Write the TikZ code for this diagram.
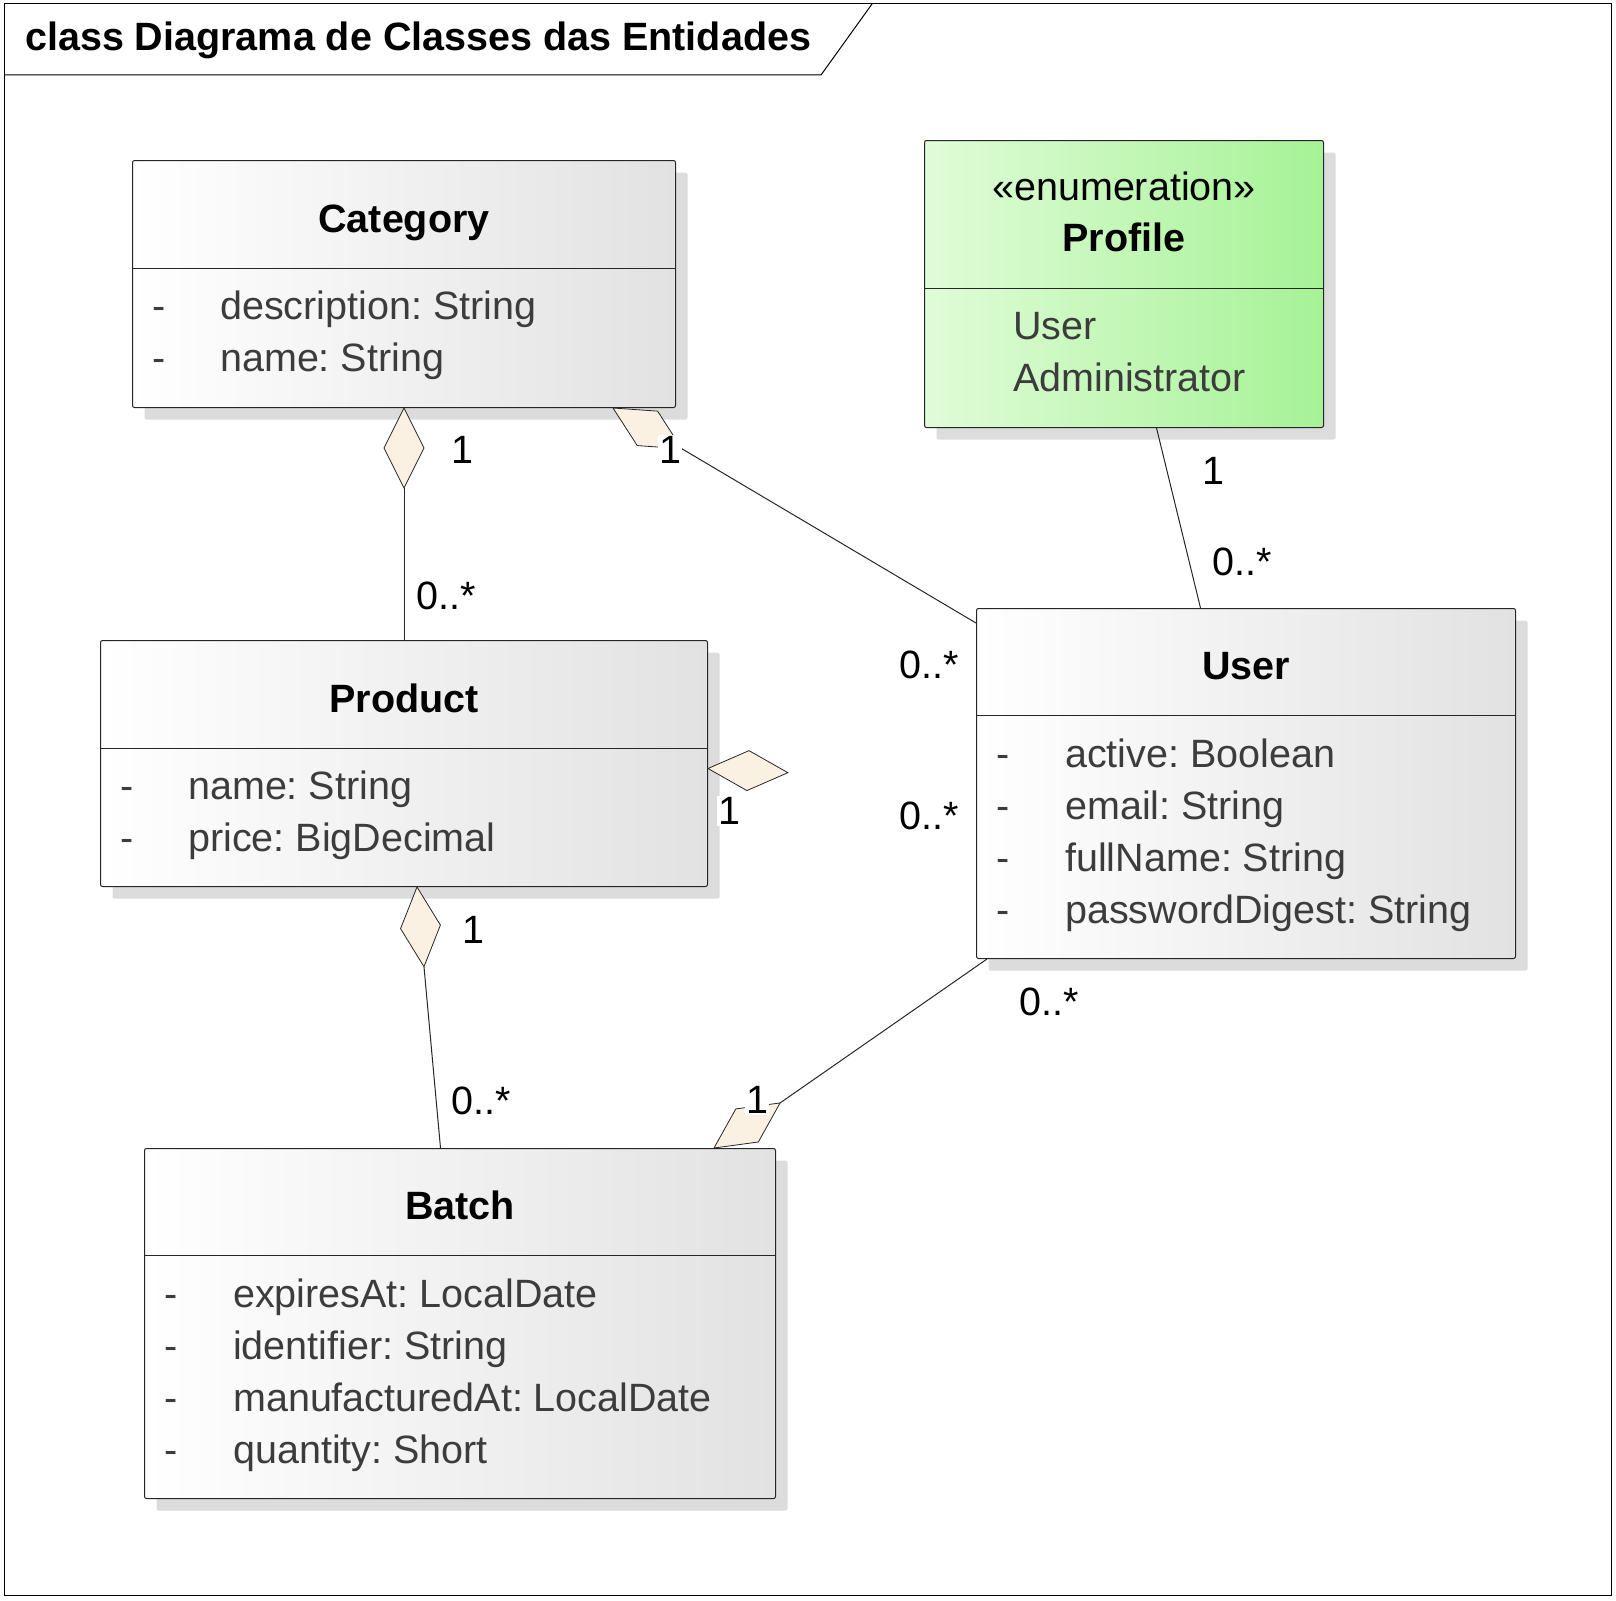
\documentclass[tikz,border=0pt]{standalone}
\usepackage{fontspec}
\setmainfont{Liberation Sans}
\usetikzlibrary{shapes.geometric,shadows,calc}
\definecolor{boxgray}{RGB}{226,226,226}
\definecolor{shadowgray}{RGB}{220,220,220}
\definecolor{enumleft}{RGB}{224,252,216}
\definecolor{enumright}{RGB}{166,242,150}
\definecolor{aggfill}{RGB}{251,241,226}
\definecolor{attrtext}{RGB}{60,60,60}
\frenchspacing

\begin{document}
\begin{tikzpicture}[x=1pt, y=-1pt,
    every node/.style={font=\fontsize{39.5}{46}\selectfont},
    classbox/.style={draw=black!85, line width=1pt, rounded corners=2pt, anchor=north west,
      inner sep=0pt, left color=white, right color=boxgray,
      drop shadow={shadow xshift=12pt, shadow yshift=-12pt, fill=shadowgray, opacity=1}},
    enumbox/.style={classbox, left color=enumleft, right color=enumright},
    ctitle/.style={font=\fontsize{39.5}{46}\selectfont\bfseries, text height=28pt, text depth=8pt},
    attr/.style={anchor=west, inner sep=0pt, text=attrtext, text height=28pt, text depth=8pt},
    agg/.style={diamond, draw=black!85, line width=0.8pt, fill=aggfill, minimum width=80pt,
      minimum height=40pt, inner sep=0pt, outer sep=0pt, anchor=west},
    assoc/.style={draw=black!85, line width=1pt},
    mult/.style={fill=white, inner sep=1pt}
  ]
  \useasboundingbox (0,0) rectangle (1616,1600);

  % frame
  \draw[line width=1pt] (4,4) rectangle (1611,1595);
  \draw[line width=1pt] (4,75) -- (821,75) -- (872,4);
  \node[ctitle, anchor=west, inner sep=0pt] (frametitle) at (25,41) {class Diagrama de Classes das Entidades};

  % classes
  \node[classbox, minimum width=543pt, minimum height=247pt] (cat) at (132,160) {};
  \node[classbox, minimum width=607pt, minimum height=246pt] (prod) at (100,640) {};
  \node[enumbox, minimum width=399pt, minimum height=287pt] (prof) at (924,140) {};
  \node[classbox, minimum width=539pt, minimum height=350pt] (usr) at (976,608) {};
  \node[classbox, minimum width=631pt, minimum height=350pt] (bat) at (144,1148) {};

  \foreach \n/\h in {cat/108pt, prod/108pt, usr/107pt, bat/107pt, prof/148pt}
    \draw[assoc] ([yshift=-\h]\n.north west) -- ([yshift=-\h]\n.north east);

  \foreach \n/\t/\h in {cat/Category/108, prod/Product/108, usr/User/107, bat/Batch/107}
    \node[ctitle] (\n-t) at ($(\n.north)+(0,\h/2+8)$) {\t};

  \foreach \t [count=\i] in {description: String, name: String} {
    \node[attr] (cat-d\i) at ($(cat.north west)+(20,97+52*\i)$) {-};
    \node[attr] (cat-a\i) at ($(cat.north west)+(88,97+52*\i)$) {\t};
  }
  \foreach \t [count=\i] in {name: String, price: BigDecimal} {
    \node[attr] (prod-d\i) at ($(prod.north west)+(20,97+52*\i)$) {-};
    \node[attr] (prod-a\i) at ($(prod.north west)+(88,97+52*\i)$) {\t};
  }
  \foreach \t [count=\i] in {active: Boolean, email: String, fullName: String, passwordDigest: String} {
    \node[attr] (usr-d\i) at ($(usr.north west)+(20,97+52*\i)$) {-};
    \node[attr] (usr-a\i) at ($(usr.north west)+(89,97+52*\i)$) {\t};
  }
  \foreach \t [count=\i] in {expiresAt: LocalDate, identifier: String, manufacturedAt: LocalDate, quantity: Short} {
    \node[attr] (bat-d\i) at ($(bat.north west)+(20,97+52*\i)$) {-};
    \node[attr] (bat-a\i) at ($(bat.north west)+(89,97+52*\i)$) {\t};
  }

  % enumeration
  \node[text height=28pt, text depth=8pt] (prof-s) at ($(prof.north)+(0,50)$) {«enumeration»};
  \node[ctitle] (prof-t) at ($(prof.north)+(0,101)$) {Profile};
  \foreach \t [count=\i] in {User, Administrator}
    \node[attr] (prof-a\i) at ($(prof.north west)+(89,137+52*\i)$) {\t};

  % associations
  \node[agg, rotate=-90] (cp) at (cat.south) {};
  \draw[assoc] (cp.east) -- (prod.north);
  \node[agg, rotate=-30.6] (cu) at ([xshift=-63pt]cat.south east) {};
  \draw[assoc] (cu.east) -- ([yshift=-15pt]usr.north west);
  \draw[assoc] ([xshift=32.5pt]prof.south) -- ([xshift=-45.5pt]usr.north);
  \node[agg, rotate=-3] (pu) at ([yshift=-5pt]prod.east) {};
  \node[agg, rotate=-85] (pb) at ([xshift=13pt]prod.south) {};
  \draw[assoc] (pb.east) -- ([xshift=-19.5pt]bat.north);
  \node[agg, rotate=34.3] (ub) at ([xshift=-62pt]bat.north east) {};
  \draw[assoc] (ub.east) -- ([xshift=11pt]usr.south west);

  % multiplicities
  \node[mult] (cp-1) at (462,450) {1};
  \node[mult] (cp-n) at (446,596) {0..*};
  \node[mult] (cu-1) at (670,450) {1};
  \node[mult] (cu-n) at (929,665) {0..*};
  \node[mult] (pu-1) at (729,811) {1};
  \node[mult] (pu-n) at (929,816) {0..*};
  \node[mult] (pr-1) at (1213,471) {1};
  \node[mult] (pr-n) at (1242,562) {0..*};
  \node[mult] (pb-1) at (473,930) {1};
  \node[mult] (pb-n) at (481,1101) {0..*};
  \node[mult] (ub-1) at (757,1100) {1};
  \node[mult] (ub-n) at (1049,1002) {0..*};
\end{tikzpicture}
\end{document}
